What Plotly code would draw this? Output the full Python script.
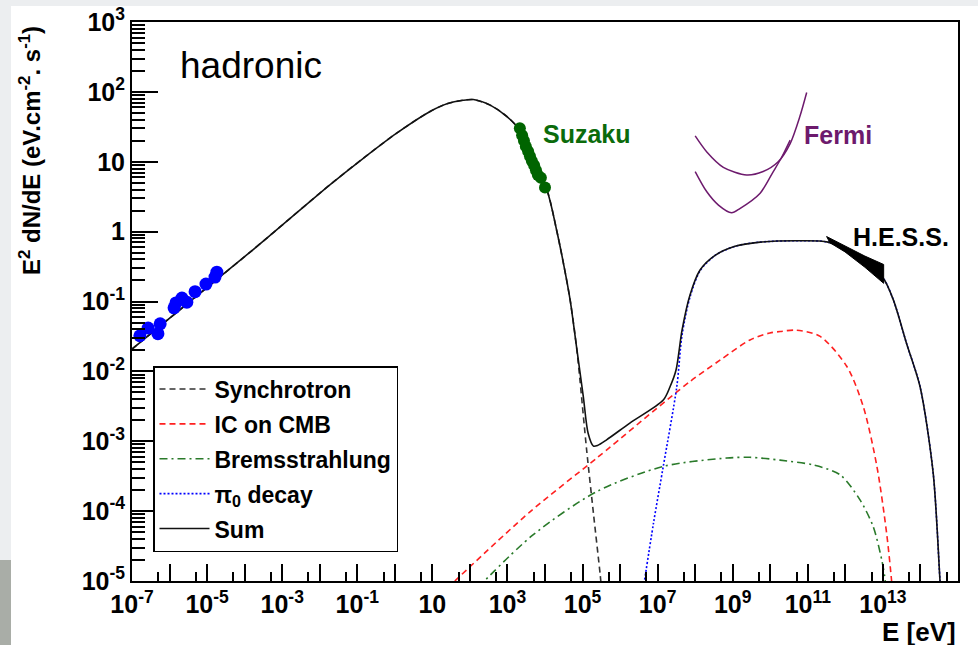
import numpy as np
import plotly.graph_objects as go

# ---------------- data (log10 of E [eV] and log10 of E^2 dN/dE) ----------------
radio_logE = [-6.79, -6.57, -6.31, -6.25, -5.88, -5.83, -5.67, -5.54, -5.32, -5.03, -4.79, -4.74]
radio_logF = [-1.49, -1.38, -1.46, -1.32, -1.09, -1.02, -0.95, -1.01, -0.86, -0.75, -0.65, -0.58]

suzaku_logE = [3.33, 3.39, 3.44, 3.49, 3.55, 3.60, 3.65, 3.71, 3.76, 3.81, 3.89, 4.00]
suzaku_logF = [1.48, 1.38, 1.30, 1.22, 1.15, 1.08, 1.01, 0.95, 0.88, 0.81, 0.77, 0.63]

sum_logE = [-7.0, -3.78, -1.73, -0.84, 0.05, 0.94, 1.39, 1.82, 2.09, 2.54, 2.98, 3.33, 4.05, 4.31,
            4.49, 4.67, 4.84, 5.02, 5.15, 5.29, 5.40, 5.64, 6.26, 7.15, 7.33, 7.49, 7.65,
            7.86, 8.13, 8.53, 9.06, 9.73, 10.79, 11.54, 12.26, 13.00, 13.28, 13.63, 13.99,
            14.34, 14.52, 14.56]
sum_logF = [-1.68, -0.26, 0.67, 1.05, 1.41, 1.72, 1.83, 1.88, 1.89, 1.81, 1.65, 1.45, 0.60, 0.02,
            -0.45, -0.98, -1.65, -2.36, -2.89, -3.07, -3.06, -2.98, -2.74, -2.41, -2.22, -1.98,
            -1.41, -0.91, -0.55, -0.34, -0.21, -0.15, -0.13, -0.15, -0.32, -0.66, -0.98, -1.60,
            -2.22, -3.46, -4.99, -5.30]

sync_logE = [-7.0, -3.78, -1.73, -0.84, 0.05, 0.94, 1.39, 1.82, 2.09, 2.54, 2.98, 3.33, 4.05, 4.31,
             4.49, 4.67, 4.84, 4.93, 5.11, 5.29, 5.47, 5.52]
sync_logF = [-1.68, -0.26, 0.67, 1.05, 1.41, 1.72, 1.83, 1.88, 1.89, 1.81, 1.65, 1.45, 0.60, 0.02,
             -0.45, -0.98, -1.65, -2.12, -3.13, -4.03, -4.91, -5.20]

ic_logE = [1.40, 3.60, 5.38, 7.85, 8.66, 9.46, 9.99, 10.26, 10.70, 11.33, 12.04, 12.48, 12.84,
           13.10, 13.23, 13.26]
ic_logF = [-5.10, -4.01, -3.24, -2.15, -1.84, -1.55, -1.45, -1.43, -1.41, -1.50, -1.93, -2.51,
           -3.36, -4.32, -4.99, -5.20]

brems_logE = [2.20, 3.68, 5.38, 7.15, 8.84, 9.46, 10.26, 11.15, 11.86, 12.39, 12.74, 12.97,
              13.06, 13.08]
brems_logF = [-5.10, -4.34, -3.72, -3.36, -3.24, -3.23, -3.27, -3.34, -3.48, -3.84, -4.22,
              -4.70, -4.99, -5.20]

pi0_logE = [6.62, 6.89, 7.15, 7.51, 7.65, 7.86, 8.13, 8.53, 9.06, 9.73, 10.79, 11.54, 12.26,
            13.00, 13.28, 13.63, 13.99, 14.34, 14.52, 14.56]
pi0_logF = [-5.10, -4.17, -3.36, -2.22, -1.48, -0.94, -0.56, -0.34, -0.21, -0.15, -0.13, -0.15,
            -0.32, -0.66, -0.98, -1.60, -2.22, -3.46, -4.99, -5.30]

fermi_hi_logE = [8.00, 8.31, 8.75, 9.37, 9.81, 10.21, 10.53, 10.79, 10.97]
fermi_hi_logF = [1.37, 1.14, 0.92, 0.81, 0.86, 1.00, 1.26, 1.65, 1.99]
fermi_lo_logE = [8.00, 8.31, 8.62, 8.97, 9.19, 9.73, 10.08, 10.29, 10.53]
fermi_lo_logF = [0.86, 0.57, 0.38, 0.27, 0.33, 0.55, 0.86, 1.05, 1.31]

hess_logE = [11.50, 11.99, 12.52, 13.02, 13.02, 12.52, 11.99, 11.59, 11.50]
hess_logF = [-0.07, -0.21, -0.35, -0.47, -0.74, -0.51, -0.29, -0.16, -0.07]

x_tick_exp = list(range(-7, 16))
y_tick_exp = list(range(-5, 4))

def p(a):
    return np.power(10.0, np.array(a, dtype=float))

FONT = "Arial, 'Liberation Sans', Helvetica, sans-serif"

fig = go.Figure()

# components
fig.add_trace(go.Scatter(x=p(sync_logE), y=p(sync_logF), mode="lines", name="Synchrotron",
                         line=dict(color="#333333", width=1.6, dash="6px,4px", shape="spline", smoothing=0.8),
                         legendgroup="a"))
fig.add_trace(go.Scatter(x=p(ic_logE), y=p(ic_logF), mode="lines", name="IC on CMB",
                         line=dict(color="#ff2020", width=1.6, dash="6px,4px", shape="spline", smoothing=0.8),
                         legendgroup="b"))
fig.add_trace(go.Scatter(x=p(brems_logE), y=p(brems_logF), mode="lines", name="Bremsstrahlung",
                         line=dict(color="#2a7a2a", width=1.6, dash="8px,4px,2px,4px", shape="spline", smoothing=0.8),
                         legendgroup="c"))
fig.add_trace(go.Scatter(x=p(pi0_logE), y=p(pi0_logF), mode="lines", name="π<sub>0</sub> decay",
                         line=dict(color="#0000ff", width=1.6, dash="2px,2px", shape="spline", smoothing=0.8),
                         legendgroup="d"))
fig.add_trace(go.Scatter(x=p(sum_logE), y=p(sum_logF), mode="lines", name="Sum",
                         line=dict(color="#111111", width=1.6, shape="spline", smoothing=0.8),
                         legendgroup="e"))

# H.E.S.S. butterfly
fig.add_trace(go.Scatter(x=p(hess_logE), y=p(hess_logF), mode="lines", fill="toself",
                         fillcolor="black", line=dict(color="black", width=1), showlegend=False))

# Fermi sensitivity curves
for lx, ly in [(fermi_hi_logE, fermi_hi_logF), (fermi_lo_logE, fermi_lo_logF)]:
    fig.add_trace(go.Scatter(x=p(lx), y=p(ly), mode="lines", showlegend=False,
                             line=dict(color="#6d1a6d", width=1.5, shape="spline", smoothing=0.8)))

# data points
fig.add_trace(go.Scatter(x=p(radio_logE), y=p(radio_logF), mode="markers", showlegend=False,
                         marker=dict(color="#0000ff", size=13)))
fig.add_trace(go.Scatter(x=p(suzaku_logE), y=p(suzaku_logF), mode="markers", showlegend=False,
                         marker=dict(color="#006400", size=12)))

def lab(e):
    if e == 0:
        return "1"
    if e == 1:
        return "10"
    return "10<sup>%d</sup>" % e

x_ticktext = [lab(e) if (e % 2 == 1 or e == 1) else " " for e in x_tick_exp]
y_ticktext = [lab(e) for e in y_tick_exp]

x_minor = [5 * 10.0 ** e for e in x_tick_exp[:-1]]
y_minor = [m * 10.0 ** e for e in y_tick_exp[:-1] for m in range(2, 10)]

fig.update_xaxes(type="log", range=[-7, 15], showgrid=False, zeroline=False, automargin=False,
                 showline=True, linecolor="black", linewidth=2, mirror=True,
                 ticks="inside", ticklen=17, tickwidth=1.5, tickcolor="black",
                 tickmode="array", tickvals=[10.0 ** e for e in x_tick_exp], ticktext=x_ticktext,
                 tickfont=dict(family=FONT, size=25, color="black", weight="bold"),
                 minor=dict(ticks="inside", ticklen=9, tickwidth=1.5, tickcolor="black",
                            tickmode="array", tickvals=x_minor))
fig.update_yaxes(type="log", range=[-5, 3], showgrid=False, zeroline=False, automargin=False,
                 showline=True, linecolor="black", linewidth=2, mirror=True,
                 ticks="inside", ticklen=26, tickwidth=1.5, tickcolor="black",
                 tickmode="array", tickvals=[10.0 ** e for e in y_tick_exp], ticktext=y_ticktext,
                 tickfont=dict(family=FONT, size=25, color="black", weight="bold"),
                 minor=dict(ticks="inside", ticklen=13, tickwidth=1.5, tickcolor="black",
                            tickmode="array", tickvals=y_minor))

L, R, T, B = 132, 20, 22, 64
W, H = 978, 645
pw, ph = W - L - R, H - T - B

def px(xpix):
    return (xpix - L) / pw

def py(ypix):
    return (H - B - ypix) / ph

annotations = [
    dict(text="hadronic", x=px(178), y=py(66), xanchor="left", yanchor="middle",
         font=dict(family=FONT, size=37, color="black")),
    dict(text="<b>Suzaku</b>", x=px(541), y=py(134), xanchor="left", yanchor="middle",
         font=dict(family=FONT, size=25, color="#0b6b0b")),
    dict(text="<b>Fermi</b>", x=px(802), y=py(135), xanchor="left", yanchor="middle",
         font=dict(family=FONT, size=25, color="#6d1a6d")),
    dict(text="<b>H.E.S.S.</b>", x=px(851), y=py(237), xanchor="left", yanchor="middle",
         font=dict(family=FONT, size=25, color="black")),
    dict(text="<b>E [eV]</b>", x=px(958), y=py(632), xanchor="right", yanchor="middle",
         font=dict(family=FONT, size=26, color="black")),
    dict(text="<b>E<sup>2</sup> dN/dE (eV.cm<sup>-2</sup>. s<sup>-1</sup>)</b>", x=px(30), y=py(151),
         xanchor="center", yanchor="middle", textangle=-90,
         font=dict(family=FONT, size=24, color="black")),
]
for a in annotations:
    a.update(xref="paper", yref="paper", showarrow=False)

shapes = [
    dict(type="rect", xref="paper", yref="paper", x0=px(0), x1=px(11), y0=py(645), y1=py(0),
         fillcolor="#eceef0", line=dict(width=0), layer="below"),
    dict(type="rect", xref="paper", yref="paper", x0=px(0), x1=px(978), y0=py(6), y1=py(0),
         fillcolor="#eceef0", line=dict(width=0), layer="below"),
    dict(type="rect", xref="paper", yref="paper", x0=px(0), x1=px(11), y0=py(645), y1=py(560),
         fillcolor="#a9ada7", line=dict(width=0), layer="below"),
]

fig.update_layout(
    width=W, height=H,
    margin=dict(l=L, r=R, t=T, b=B),
    paper_bgcolor="white", plot_bgcolor="white",
    font=dict(family=FONT, color="black"),
    annotations=annotations, shapes=shapes,
    showlegend=True,
    legend=dict(x=px(153), y=py(366), xanchor="left", yanchor="top",
                bgcolor="white", bordercolor="black", borderwidth=1.5,
                font=dict(family=FONT, size=23, color="black", weight="bold"),
                tracegroupgap=2, itemwidth=50),
)

fig.write_html("out.html")
